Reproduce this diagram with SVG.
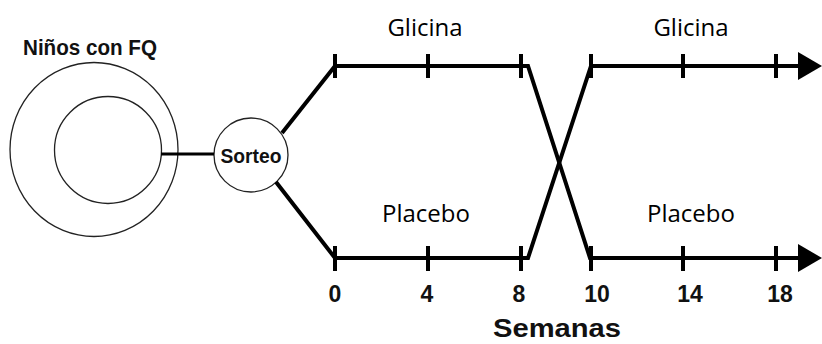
<svg xmlns="http://www.w3.org/2000/svg" width="822" height="344" viewBox="0 0 822 344">
  <style>
    .ring { fill: #ffffff; stroke: #222222; stroke-width: 1.3; }
    .arm { fill: none; stroke: #000000; stroke-width: 4; stroke-linejoin: miter; }
    .tick { stroke: #000000; stroke-width: 4; }
    .head { fill: #000000; }
    .bold { font-family: "Liberation Sans", Arial, sans-serif; font-weight: bold; fill: #111111; }
    .arm-label { font-family: "Open Sans", "Noto Sans", sans-serif; font-size: 24px; fill: #000000; text-anchor: middle; }
    .week { font-size: 23px; text-anchor: middle; }
  </style>

  <!-- Population of children with CF -->
  <g id="poblacion">
    <ellipse class="ring" cx="94" cy="149.5" rx="84" ry="87"/>
    <circle class="ring" cx="108" cy="150" r="53.5"/>
    <text class="bold" x="23" y="55" font-size="22" textLength="134" lengthAdjust="spacingAndGlyphs">Niños con FQ</text>
  </g>

  <!-- Randomisation -->
  <g id="sorteo">
    <circle class="ring" cx="251" cy="155" r="37"/>
    <text class="bold" x="251" y="163" font-size="21" text-anchor="middle" textLength="61" lengthAdjust="spacingAndGlyphs">Sorteo</text>
  </g>

  <!-- Timeline arms and crossover -->
  <g id="conectores">
    <line x1="161" y1="154" x2="214" y2="154" stroke="#000000" stroke-width="3"/>
    <polyline class="arm" points="282,133 335,66 528,66 590,258 776,258 800,258"/>
    <polyline class="arm" points="276,182 335,258 528,258 591,66 776,66 800,66"/>
    <g class="tick">
      <line x1="335" y1="54" x2="335" y2="78"/>
      <line x1="428" y1="54" x2="428" y2="78"/>
      <line x1="521" y1="54" x2="521" y2="78"/>
      <line x1="591" y1="54" x2="591" y2="78"/>
      <line x1="683" y1="54" x2="683" y2="78"/>
      <line x1="776" y1="54" x2="776" y2="78"/>
      <line x1="335" y1="246" x2="335" y2="271"/>
      <line x1="428" y1="246" x2="428" y2="271"/>
      <line x1="521" y1="246" x2="521" y2="271"/>
      <line x1="591" y1="246" x2="591" y2="271"/>
      <line x1="683" y1="246" x2="683" y2="271"/>
      <line x1="776" y1="246" x2="776" y2="271"/>
    </g>
    <polygon class="head" points="798,52 822,66 798,80"/>
    <polygon class="head" points="798,244 822,258 798,272"/>
  </g>

  <!-- Arm labels -->
  <g id="etiquetas">
    <text class="arm-label" x="425" y="36">Glicina</text>
    <text class="arm-label" x="691" y="36">Glicina</text>
    <text class="arm-label" x="426" y="222">Placebo</text>
    <text class="arm-label" x="691" y="222">Placebo</text>
  </g>

  <!-- Week axis -->
  <g id="eje">
    <text class="bold week" x="335" y="302">0</text>
    <text class="bold week" x="427" y="302">4</text>
    <text class="bold week" x="519" y="302">8</text>
    <text class="bold week" x="597" y="302">10</text>
    <text class="bold week" x="690" y="302">14</text>
    <text class="bold week" x="780" y="302">18</text>
    <text class="bold" x="557" y="337" font-size="26" text-anchor="middle" textLength="128" lengthAdjust="spacingAndGlyphs">Semanas</text>
  </g>
</svg>
